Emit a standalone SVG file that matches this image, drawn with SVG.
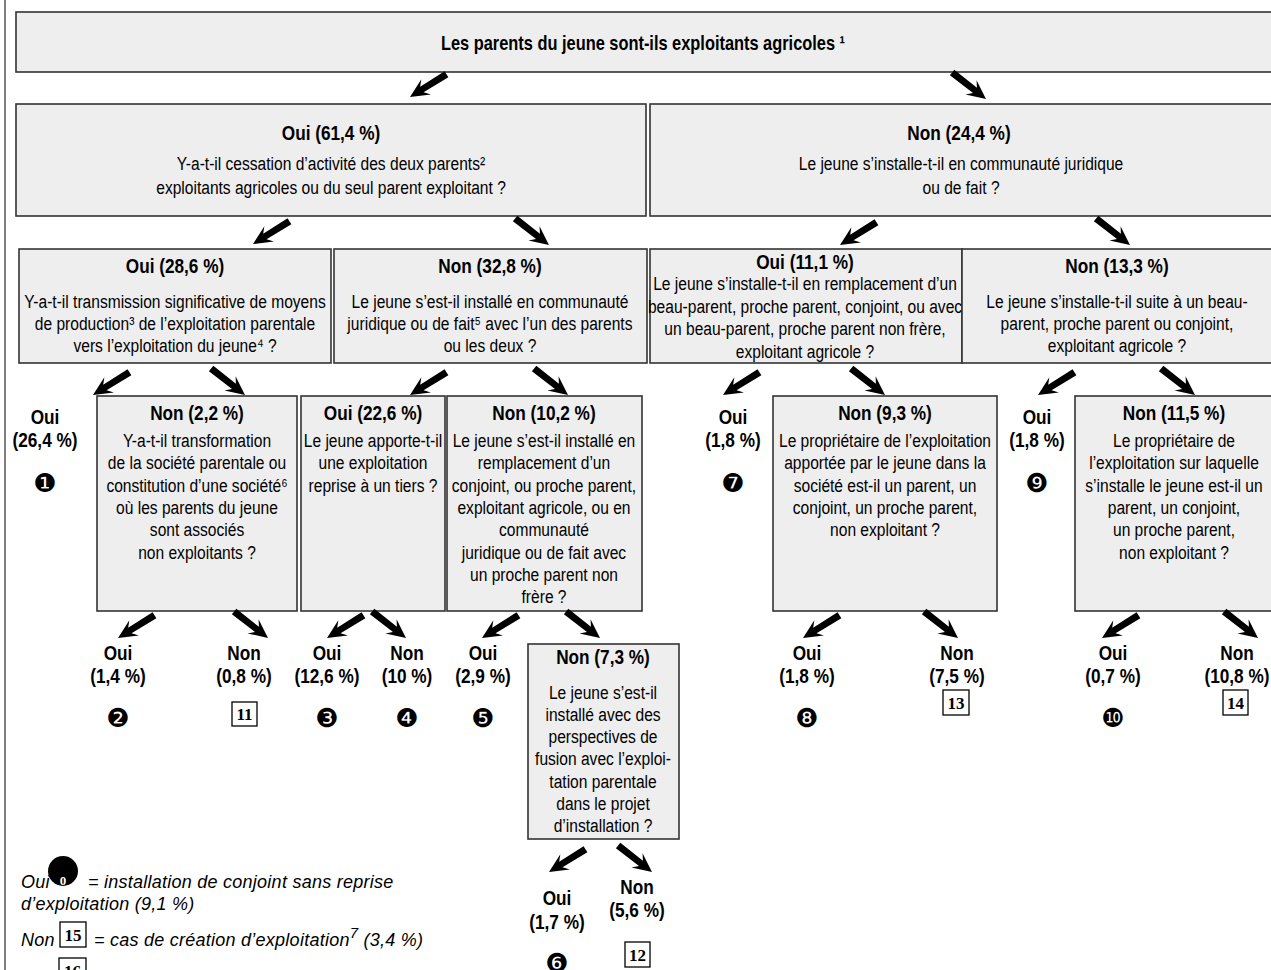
<svg xmlns="http://www.w3.org/2000/svg" width="1271" height="970" viewBox="0 0 1271 970">
<defs>
<style>
.box{fill:#eeeeee;stroke:#333;stroke-width:1.6}
.t{font-family:"Liberation Sans Narrow","Arial Narrow","Liberation Sans",Arial,sans-serif;font-size:19px;text-anchor:middle;fill:#000;transform-box:fill-box;transform-origin:center;transform:scaleX(0.82)}
.h{font-family:"Liberation Sans Narrow","Arial Narrow","Liberation Sans",Arial,sans-serif;font-size:21px;font-weight:bold;text-anchor:middle;fill:#000;transform-box:fill-box;transform-origin:center;transform:scaleX(0.82)}
.num{font-family:"DejaVu Sans",sans-serif;font-size:26px;text-anchor:middle;fill:#000}
.sq{fill:#fff;stroke:#000;stroke-width:1.3}
.sqt{font-family:"Liberation Serif","Times New Roman",serif;font-weight:bold;font-size:17px;text-anchor:middle;fill:#000}
.leg{font-family:"Liberation Sans",Arial,sans-serif;font-style:italic;font-size:18px;letter-spacing:0.25px;fill:#000}
.arr{fill:#000}
</style>
<path id="arr" d="M0,0 L-19,-9 L-14,-3.2 L-43,-3.6 L-43,3.6 L-14,3.2 L-19,9 Z"/>
</defs>
<rect width="1271" height="970" fill="#fff"/>
<line x1="5" y1="0" x2="5" y2="970" stroke="#555" stroke-width="1.5"/>

<g id="n-root">
<rect class="box" x="16" y="12" width="1265" height="60"/>
<text class="h" x="643" y="50" style="font-size:20px">Les parents du jeune sont-ils exploitants agricoles ¹</text>
</g>

<g id="n-oui-61">
<rect class="box" x="16" y="104" width="630" height="112"/>
<text class="h" x="331" y="140">Oui (61,4 %)</text>
<text class="t" x="331" y="170">Y-a-t-il cessation d’activité des deux parents²</text>
<text class="t" x="331" y="194">exploitants agricoles ou du seul parent exploitant ?</text>
</g>

<g id="n-non-24">
<rect class="box" x="650" y="104" width="630" height="112"/>
<text class="h" x="959" y="140">Non (24,4 %)</text>
<text class="t" x="961" y="170">Le jeune s’installe-t-il en communauté juridique</text>
<text class="t" x="961" y="194">ou de fait ?</text>
</g>

<g id="n-oui-28">
<rect class="box" x="19" y="249" width="312" height="114"/>
<text class="h" x="175" y="273">Oui (28,6 %)</text>
<text class="t" x="175" y="308">Y-a-t-il transmission significative de moyens</text>
<text class="t" x="175" y="330">de production³ de l’exploitation parentale</text>
<text class="t" x="175" y="352">vers l’exploitation du jeune⁴ ?</text>
</g>

<g id="n-non-32">
<rect class="box" x="334" y="249" width="313" height="114"/>
<text class="h" x="490" y="273">Non (32,8 %)</text>
<text class="t" x="490" y="308">Le jeune s’est-il installé en communauté</text>
<text class="t" x="490" y="330">juridique ou de fait⁵ avec l’un des parents</text>
<text class="t" x="490" y="352">ou les deux ?</text>
</g>

<g id="n-oui-11">
<rect class="box" x="650" y="249" width="312" height="114"/>
<text class="h" x="805" y="269">Oui (11,1 %)</text>
<text class="t" x="805" y="290">Le jeune s’installe-t-il en remplacement d’un</text>
<text class="t" x="805" y="313">beau-parent, proche parent, conjoint, ou avec</text>
<text class="t" x="805" y="335">un beau-parent, proche parent non frère,</text>
<text class="t" x="805" y="358">exploitant agricole ?</text>
</g>

<g id="n-non-13">
<rect class="box" x="962" y="249" width="320" height="114"/>
<text class="h" x="1117" y="273">Non (13,3 %)</text>
<text class="t" x="1117" y="308">Le jeune s’installe-t-il suite à un beau-</text>
<text class="t" x="1117" y="330">parent, proche parent ou conjoint,</text>
<text class="t" x="1117" y="352">exploitant agricole ?</text>
</g>

<g id="leaf-1">
<text class="h" x="45" y="424">Oui</text>
<text class="h" x="45" y="447">(26,4 %)</text>
<text class="num" x="45" y="492">❶</text>
</g>

<g id="n-non-2">
<rect class="box" x="97" y="396" width="200" height="215"/>
<text class="h" x="197" y="420">Non (2,2 %)</text>
<text class="t" x="197" y="447">Y-a-t-il transformation</text>
<text class="t" x="197" y="469">de la société parentale ou</text>
<text class="t" x="197" y="492">constitution d’une société⁶</text>
<text class="t" x="197" y="514">où les parents du jeune</text>
<text class="t" x="197" y="536">sont associés</text>
<text class="t" x="197" y="559">non exploitants ?</text>
</g>

<g id="n-oui-22">
<rect class="box" x="301" y="396" width="144" height="215"/>
<text class="h" x="373" y="420">Oui (22,6 %)</text>
<text class="t" x="373" y="447">Le jeune apporte-t-il</text>
<text class="t" x="373" y="469">une exploitation</text>
<text class="t" x="373" y="492">reprise à un tiers ?</text>
</g>

<g id="n-non-10">
<rect class="box" x="447" y="396" width="195" height="215"/>
<text class="h" x="544" y="420">Non (10,2 %)</text>
<text class="t" x="544" y="447">Le jeune s’est-il installé en</text>
<text class="t" x="544" y="469">remplacement d’un</text>
<text class="t" x="544" y="492">conjoint, ou proche parent,</text>
<text class="t" x="544" y="514">exploitant agricole, ou en</text>
<text class="t" x="544" y="536">communauté</text>
<text class="t" x="544" y="559">juridique ou de fait avec</text>
<text class="t" x="544" y="581">un proche parent non</text>
<text class="t" x="544" y="603">frère ?</text>
</g>

<g id="leaf-7">
<text class="h" x="733" y="424">Oui</text>
<text class="h" x="733" y="447">(1,8 %)</text>
<text class="num" x="733" y="492">❼</text>
</g>

<g id="n-non-9">
<rect class="box" x="773" y="396" width="224" height="215"/>
<text class="h" x="885" y="420">Non (9,3 %)</text>
<text class="t" x="885" y="447">Le propriétaire de l’exploitation</text>
<text class="t" x="885" y="469">apportée par le jeune dans la</text>
<text class="t" x="885" y="492">société est-il un parent, un</text>
<text class="t" x="885" y="514">conjoint, un proche parent,</text>
<text class="t" x="885" y="536">non exploitant ?</text>
</g>

<g id="leaf-9">
<text class="h" x="1037" y="424">Oui</text>
<text class="h" x="1037" y="447">(1,8 %)</text>
<text class="num" x="1037" y="492">❾</text>
</g>

<g id="n-non-11">
<rect class="box" x="1075" y="396" width="210" height="215"/>
<text class="h" x="1174" y="420">Non (11,5 %)</text>
<text class="t" x="1174" y="447">Le propriétaire de</text>
<text class="t" x="1174" y="469">l’exploitation sur laquelle</text>
<text class="t" x="1174" y="492">s’installe le jeune est-il un</text>
<text class="t" x="1174" y="514">parent, un conjoint,</text>
<text class="t" x="1174" y="536">un proche parent,</text>
<text class="t" x="1174" y="559">non exploitant ?</text>
</g>

<g id="leaf-2">
<text class="h" x="118" y="660">Oui</text>
<text class="h" x="118" y="683">(1,4 %)</text>
<text class="num" x="118" y="727">❷</text>
</g>
<g id="leaf-11">
<text class="h" x="244" y="660">Non</text>
<text class="h" x="244" y="683">(0,8 %)</text>
<rect class="sq" x="232" y="702" width="25" height="24"/>
<text class="sqt" x="244.5" y="720">11</text>
</g>
<g id="leaf-3">
<text class="h" x="327" y="660">Oui</text>
<text class="h" x="327" y="683">(12,6 %)</text>
<text class="num" x="327" y="727">❸</text>
</g>
<g id="leaf-4">
<text class="h" x="407" y="660">Non</text>
<text class="h" x="407" y="683">(10 %)</text>
<text class="num" x="407" y="727">❹</text>
</g>
<g id="leaf-5">
<text class="h" x="483" y="660">Oui</text>
<text class="h" x="483" y="683">(2,9 %)</text>
<text class="num" x="483" y="727">❺</text>
</g>

<g id="n-non-7">
<rect class="box" x="528" y="644" width="151" height="195"/>
<text class="h" x="603" y="664">Non (7,3 %)</text>
<text class="t" x="603" y="699">Le jeune s’est-il</text>
<text class="t" x="603" y="721">installé avec des</text>
<text class="t" x="603" y="743">perspectives de</text>
<text class="t" x="603" y="765">fusion avec l’exploi-</text>
<text class="t" x="603" y="788">tation parentale</text>
<text class="t" x="603" y="810">dans le projet</text>
<text class="t" x="603" y="832">d’installation ?</text>
</g>

<g id="leaf-6">
<text class="h" x="557" y="905">Oui</text>
<text class="h" x="557" y="929">(1,7 %)</text>
<text class="num" x="557" y="972">❻</text>
</g>
<g id="leaf-12">
<text class="h" x="637" y="894">Non</text>
<text class="h" x="637" y="917">(5,6 %)</text>
<rect class="sq" x="625" y="942" width="25" height="25"/>
<text class="sqt" x="637.5" y="961">12</text>
</g>

<g id="leaf-8">
<text class="h" x="807" y="660">Oui</text>
<text class="h" x="807" y="683">(1,8 %)</text>
<text class="num" x="807" y="727">❽</text>
</g>
<g id="leaf-13">
<text class="h" x="957" y="660">Non</text>
<text class="h" x="957" y="683">(7,5 %)</text>
<rect class="sq" x="943" y="690" width="26" height="25"/>
<text class="sqt" x="956" y="709">13</text>
</g>
<g id="leaf-10">
<text class="h" x="1113" y="660">Oui</text>
<text class="h" x="1113" y="683">(0,7 %)</text>
<text class="num" x="1113" y="727">❿</text>
</g>
<g id="leaf-14">
<text class="h" x="1237" y="660">Non</text>
<text class="h" x="1237" y="683">(10,8 %)</text>
<rect class="sq" x="1223" y="690" width="25" height="25"/>
<text class="sqt" x="1235.5" y="709">14</text>
</g>

<g id="legend">
<text class="leg" x="21" y="888">Oui</text>
<circle cx="63" cy="871" r="15" fill="#000"/>
<text x="63" y="885" style="font-family:'Liberation Serif',serif;font-weight:bold;font-size:13px;fill:#fff;text-anchor:middle">0</text>
<text class="leg" x="88" y="888">= installation de conjoint sans reprise</text>
<text class="leg" x="21" y="910">d’exploitation (9,1 %)</text>
<text class="leg" x="21" y="946">Non</text>
<rect class="sq" x="60" y="922" width="26" height="25"/>
<text class="sqt" x="73" y="941">15</text>
<text class="leg" x="94" y="946">= cas de création d’exploitation<tspan dy="-8" font-size="15">7</tspan><tspan dy="8"> (3,4 %)</tspan></text>
<rect class="sq" x="59" y="958" width="27" height="25"/>
<text class="sqt" x="72.5" y="977">16</text>
</g>

<g id="connectors" class="arr">
<use href="#arr" transform="translate(410,97) rotate(148)"/>
<use href="#arr" transform="translate(986,99) rotate(38)"/>
<use href="#arr" transform="translate(253,244) rotate(148)"/>
<use href="#arr" transform="translate(549,245) rotate(38)"/>
<use href="#arr" transform="translate(840,245) rotate(148)"/>
<use href="#arr" transform="translate(1130,245) rotate(38)"/>
<use href="#arr" transform="translate(93,395) rotate(148)"/>
<use href="#arr" transform="translate(245,395) rotate(38)"/>
<use href="#arr" transform="translate(410,395) rotate(148)"/>
<use href="#arr" transform="translate(568,395) rotate(38)"/>
<use href="#arr" transform="translate(723,395) rotate(148)"/>
<use href="#arr" transform="translate(885,395) rotate(38)"/>
<use href="#arr" transform="translate(1038,395) rotate(148)"/>
<use href="#arr" transform="translate(1195,395) rotate(38)"/>
<use href="#arr" transform="translate(118,638) rotate(148)"/>
<use href="#arr" transform="translate(268,638) rotate(38)"/>
<use href="#arr" transform="translate(327,638) rotate(148)"/>
<use href="#arr" transform="translate(406,638) rotate(38)"/>
<use href="#arr" transform="translate(482,638) rotate(148)"/>
<use href="#arr" transform="translate(600,638) rotate(38)"/>
<use href="#arr" transform="translate(803,638) rotate(148)"/>
<use href="#arr" transform="translate(958,638) rotate(38)"/>
<use href="#arr" transform="translate(1102,638) rotate(148)"/>
<use href="#arr" transform="translate(1258,638) rotate(38)"/>
<use href="#arr" transform="translate(549,872) rotate(148)"/>
<use href="#arr" transform="translate(652,872) rotate(38)"/>
</g>
</svg>
